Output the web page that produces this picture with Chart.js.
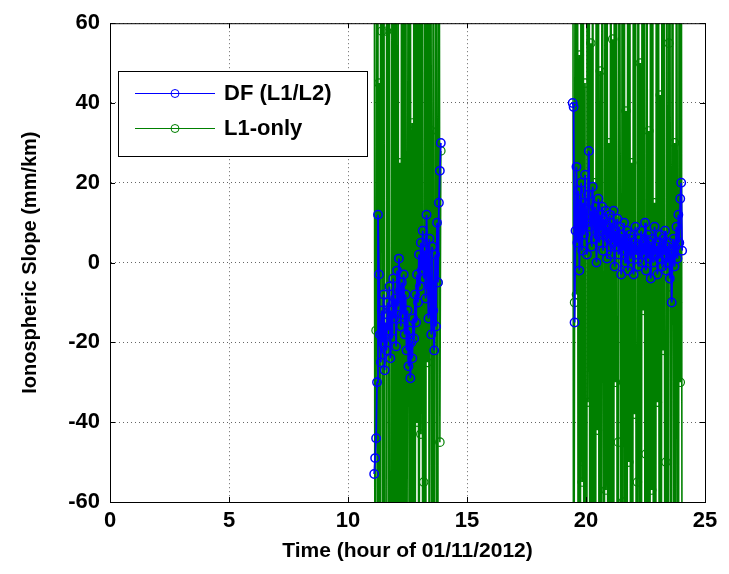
<!DOCTYPE html>
<html>
<head>
<meta charset="utf-8">
<script src="https://cdn.jsdelivr.net/npm/chart.js@4.4.1/dist/chart.umd.min.js"></script>
<style>
  html, body { margin: 0; padding: 0; background: #fff; }
  #wrap { width: 729px; height: 574px; }
</style>
</head>
<body>
<div id="wrap"><canvas id="c" width="729" height="574"></canvas></div>
<script>
// sampling of the two passes (hours of 01/11/2012)
const pass1Start = 11.10;
const pass2Start = 19.44;
const sampleStep = 0.04;

// DF (L1/L2) slope, mm/km
const dfPass1 = [
  -53, -49, -44, -30, 12, -3, -18, -25, -12, -20,
  -8, -27, -15, -22, -10, -17, -6, -24, -12, -19,
  -4, -14, -9, -21, -2, -11, 1, -7, -16, -5,
  -13, -3, -18, -8, -22, -12, -26, -17, -29, -20,
  -24, -14, -19, -8, -15, -3, -10, 2, -6, 5,
  -2, 8, -4, 3, -9, 12, 0, -14, 6, -6,
  -18, 4, -12, -22, 2, -16, 10, -5, 15, 23,
  30
];
const dfPass2 = [
  40, 39, -15, 8, 24, 5, 18, -2, 12, 20,
  3, 15, 7, 22, 10, 2, 17, 28, 9, 13,
  4, 19, 11, 6, 14, 0, 10, 16, 5, 12,
  8, 14, 3, 11, 7, 13, 1, 9, 6, 12,
  2, 10, 5, 13, -1, 8, 4, 11, 2, 9,
  6, -3, 7, 3, 10, 0, 5, 8, -2, 4,
  7, 1, 6, 3, -3, 5, 9, 2, 4, -1,
  6, 3, 8, 0, 5, 2, 10, -2, 4, 7,
  1, 5, -4, 3, 6, 0, 9, 2, 4, -3,
  5, 1, 7, 3, -1, 6, 2, 8, -2, 4,
  0, 5, -4, 3, -10, 2, 6, -1, 4, 9,
  1, 12, 5, 16, 20, 3
];

// L1-only slope, mm/km (mostly far outside the axis range)
const l1Pass1 = [
  150, -180, -17, 210, -140, 45, -200, 170, 58, -160,
  190, -130, -220, 58, 140, -170, 120, -190, -150, 230,
  -110, 160, -240, 130, -125, 180, -200, 25, -150, 210,
  -170, 140, -190, 220, -130, -15, 160, -210, 120, -180,
  35, -160, 250, -140, 170, -40, 190, -230, 130, -43,
  200, -120, -55, 150, -190, 180, -25, 140, -210, 160,
  33, -170, 120, -200, 10, 230, -150, -5, 190, -45,
  28
];
const l1Pass2 = [
  180, -150, -10, 200, -8, 160, -210, 52, -140, 190,
  -55, 130, -170, 45, -220, 150, -35, 240, -120, 55,
  -190, 170, -130, 20, -160, 210, -42, 140, -230, 48,
  -150, 180, -20, -200, 125, -57, 160, -140, 30, -210,
  190, -115, 56, -175, 220, -30, 135, -195, -45, 165,
  12, -240, 150, -60, 200, -125, 38, -180, 170, -50,
  140, -210, 25, -160, 230, -38, 120, -190, -55, 180,
  -145, 50, -220, 160, -12, 195, -130, -48, 150, -175,
  33, -205, 240, -57, 130, -165, 15, -230, 175, -35,
  160, -140, 42, -195, 210, -22, 145, -185, -50, 120,
  -215, 55, 170, -150, -8, 200, -130, 30, -245, 160,
  -10, -175, 190, -30, 140, -120
];

const seriesNames = ['DF (L1/L2)', 'L1-only'];
const seriesColors = ['#0000ff', '#008000'];
const xTicks = [0, 5, 10, 15, 20, 25];
const yTicks = [-60, -40, -20, 0, 20, 40, 60];

function toPoints(start, vals) {
  return vals.map((v, i) => ({x: +(start + i * sampleStep).toFixed(2), y: v}));
}
function joinPasses(a, b) {
  // null point breaks the line between the two passes
  return toPoints(pass1Start, a).concat([{x: 16.5, y: null}], toPoints(pass2Start, b));
}

const FONT = 'Arial, "Liberation Sans", Helvetica, sans-serif';

const boxPlugin = {
  id: 'matlabBox',
  afterDraw(chart) {
    const {ctx, chartArea: a, scales} = chart;
    ctx.save();
    ctx.strokeStyle = '#000';
    ctx.lineWidth = 1;
    ctx.strokeRect(a.left + 0.5, a.top + 0.5, a.right - a.left, a.bottom - a.top);
    ctx.beginPath();
    xTicks.forEach(t => {
      const x = Math.round(scales.x.getPixelForValue(t)) + 0.5;
      ctx.moveTo(x, a.bottom); ctx.lineTo(x, a.bottom - 5);
      ctx.moveTo(x, a.top); ctx.lineTo(x, a.top + 5);
    });
    yTicks.forEach(t => {
      const y = Math.round(scales.y.getPixelForValue(t)) + 0.5;
      ctx.moveTo(a.left, y); ctx.lineTo(a.left + 5, y);
      ctx.moveTo(a.right, y); ctx.lineTo(a.right - 5, y);
    });
    ctx.stroke();

    // legend box
    const lx = 118, ly = 71, lw = 249, lh = 85;
    ctx.fillStyle = '#fff';
    ctx.fillRect(lx, ly, lw, lh);
    ctx.strokeRect(lx + 0.5, ly + 0.5, lw, lh);
    const rows = [93, 128];
    rows.forEach((y, i) => {
      ctx.strokeStyle = seriesColors[i];
      ctx.lineWidth = 1;
      ctx.beginPath();
      ctx.moveTo(135, y + 0.5); ctx.lineTo(215, y + 0.5);
      ctx.stroke();
      ctx.beginPath();
      ctx.arc(175, y + 0.5, 4, 0, Math.PI * 2);
      ctx.stroke();
      ctx.fillStyle = '#000';
      ctx.font = 'bold 22px ' + FONT;
      ctx.textBaseline = 'middle';
      ctx.textAlign = 'left';
      ctx.fillText(seriesNames[i], 224, y + 1);
    });
    ctx.restore();
  }
};

new Chart(document.getElementById('c'), {
  type: 'line',
  data: {
    datasets: [
      {
        label: seriesNames[0],
        data: joinPasses(dfPass1, dfPass2),
        borderColor: seriesColors[0],
        backgroundColor: 'rgba(0,0,0,0)',
        borderWidth: 1.8,
        pointRadius: 4.2,
        pointBorderWidth: 1.5,
        pointBorderColor: seriesColors[0],
        pointBackgroundColor: 'rgba(0,0,0,0)',
        spanGaps: false
      },
      {
        label: seriesNames[1],
        data: joinPasses(l1Pass1, l1Pass2),
        borderColor: seriesColors[1],
        backgroundColor: 'rgba(0,0,0,0)',
        borderWidth: 1.6,
        pointRadius: 4.2,
        pointBorderWidth: 1.2,
        pointBorderColor: seriesColors[1],
        pointBackgroundColor: 'rgba(0,0,0,0)',
        spanGaps: false
      }
    ]
  },
  options: {
    responsive: false,
    animation: false,
    layout: { padding: { top: 22, right: 24, left: 0, bottom: 0 } },
    plugins: {
      legend: { display: false },
      tooltip: { enabled: false }
    },
    scales: {
      x: {
        type: 'linear',
        min: 0, max: 25,
        afterFit(s) { s.height = 72; },
        afterBuildTicks(s) { s.ticks = xTicks.map(v => ({value: v})); },
        grid: { color: 'rgba(0,0,0,0.6)', drawTicks: false },
        border: { display: true, color: '#000', width: 1, dash: [1, 3] },
        ticks: { color: '#000', padding: 6, font: { family: FONT, size: 22, weight: 'bold' } },
        title: {
          display: true, text: 'Time (hour of 01/11/2012)', color: '#000',
          font: { family: FONT, size: 21, weight: 'bold' }, padding: { top: 0, bottom: 10 }
        }
      },
      y: {
        type: 'linear',
        min: -60, max: 60,
        afterFit(s) { s.width = 110; },
        afterBuildTicks(s) { s.ticks = yTicks.map(v => ({value: v})); },
        grid: { color: 'rgba(0,0,0,0.6)', drawTicks: false },
        border: { display: true, color: '#000', width: 1, dash: [1, 3] },
        ticks: { color: '#000', padding: 10, font: { family: FONT, size: 22, weight: 'bold' } },
        title: {
          display: true, text: 'Ionospheric Slope (mm/km)', color: '#000',
          font: { family: FONT, size: 20, weight: 'bold' }, padding: { top: 18, bottom: 0 }
        }
      }
    }
  },
  plugins: [boxPlugin]
});
</script>
</body>
</html>
